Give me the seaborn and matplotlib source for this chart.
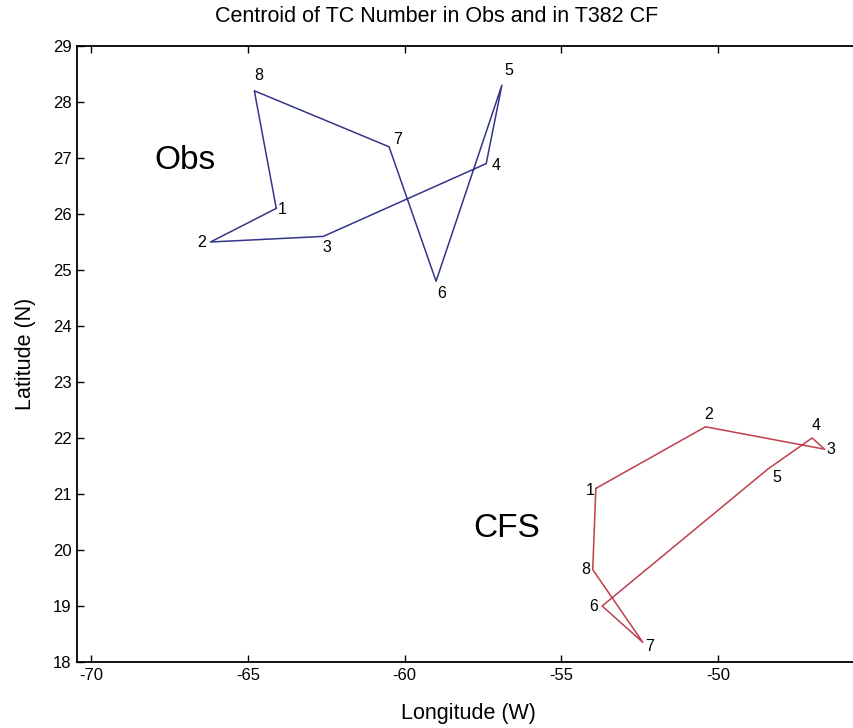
import pandas as pd
import seaborn as sns
import matplotlib.pyplot as plt

# Centroid positions, 8 steps per track
steps = [1, 2, 3, 4, 5, 6, 7, 8]
obs_lon = [-64.1, -66.2, -62.6, -57.4, -56.9, -59.0, -60.5, -64.8]
obs_lat = [26.1, 25.5, 25.6, 26.9, 28.3, 24.8, 27.2, 28.2]
cfs_lon = [-53.9, -50.4, -46.6, -47.0, -48.4, -53.7, -52.4, -54.0]
cfs_lat = [21.1, 22.2, 21.8, 22.0, 21.45, 19.0, 18.35, 19.65]

# label offsets in pixels (dx, dy) for the step numbers
obs_off = [(6, -1), (-9, 0), (4, -11), (10, -2), (7, 15), (6, -12), (8, 7), (4, 15)]
cfs_off = [(-6, -2), (3, 12), (6, 0), (4, 13), (9, -9), (-8, 0), (7, -4), (-7, 0)]

sns.set_style("ticks")
plt.rcParams['font.family'] = ['Liberation Sans', 'DejaVu Sans']
plt.rcParams.update({'text.color': 'black', 'axes.labelcolor': 'black',
                     'xtick.color': 'black', 'ytick.color': 'black',
                     'axes.edgecolor': 'black', 'axes.unicode_minus': False})

fig = plt.figure(figsize=(8.54, 7.28), dpi=100)
ax = fig.add_axes([77 / 854, 66 / 728, 783 / 854, 616 / 728])

tracks = [("Obs", obs_lon, obs_lat, "#34348a", obs_off),
          ("CFS", cfs_lon, cfs_lat, "#bd404c", cfs_off)]

for name, lon, lat, col, offs in tracks:
    # close the loop back to step 1
    df = pd.DataFrame({"lon": lon + lon[:1], "lat": lat + lat[:1]})
    sns.lineplot(data=df, x="lon", y="lat", sort=False, estimator=None,
                 color=col, linewidth=1.1, ax=ax)
    for s, x, y, (dx, dy) in zip(steps, lon, lat, offs):
        ax.annotate(str(s), (x, y), xytext=(dx, dy), textcoords="offset pixels",
                    ha="center", va="center", fontsize=11.5)

ax.text(-67.0, 26.96, "Obs", fontsize=24, ha="center", va="center")
ax.text(-56.74, 20.39, "CFS", fontsize=24, ha="center", va="center")

ax.set_xlim(-70.46, -45.47)
ax.set_ylim(18, 29)
ax.set_xticks([-70, -65, -60, -55, -50])
ax.set_yticks(range(18, 30))
ax.tick_params(direction="in", length=5, width=1, top=True, right=True,
               labelsize=12, pad=4)
for sp in ax.spines.values():
    sp.set_linewidth(1.3)

ax.set_xlabel("Longitude (W)", fontsize=15.5, labelpad=15)
ax.set_ylabel("Latitude (N)", fontsize=15.5, labelpad=12)
fig.text(437 / 854, 1 - 16 / 728, "Centroid of TC Number in Obs and in T382 CF",
         ha="center", va="center", fontsize=15.5)

fig.savefig("out.png", dpi=100)
